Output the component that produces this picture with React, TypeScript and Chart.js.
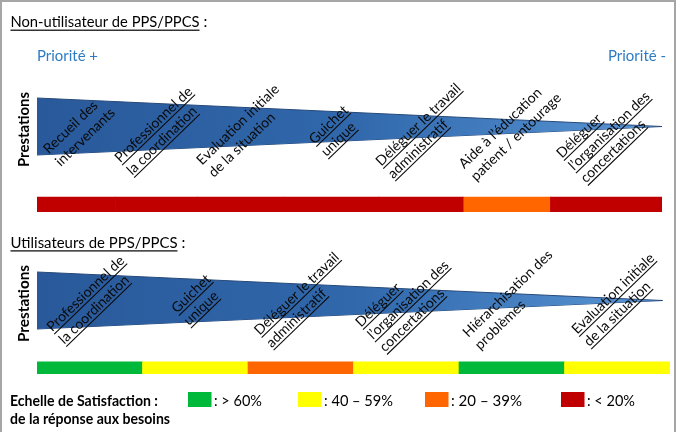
import React, { useEffect, useRef } from "react";
import { Chart, registerables } from "chart.js";

Chart.register(...registerables);

const FONT = "Lato, 'Open Sans', sans-serif";

// Satisfaction scale (legend)
const LEVEL_LABELS = [": > 60%", ": 40 – 59%", ": 20 – 39%", ": < 20%"];
const LEVEL_COLORS = ["#00B93A", "#FFFF00", "#FF6600", "#C00000"];
const LEGEND_TITLE = ["Echelle de Satisfaction :", "de la réponse aux besoins"];

// Non-utilisateurs
const TOP_TITLE = "Non-utilisateur de PPS/PPCS";
const TOP_PRESTATIONS = [
  ["Recueil des", "intervenants"],
  ["Professionnel de", "la coordination"],
  ["Evaluation initiale", "de la situation"],
  ["Guichet", "unique"],
  ["Déléguer le travail", "administratif"],
  ["Aide à l’éducation", "patient / entourage"],
  ["Déléguer", "l’organisation des", "concertations"],
];
const TOP_UNDERLINED = [false, true, false, true, true, false, true];
const TOP_BOUNDS = [0, 0.88, 1.8, 2.77, 3.83, 4.78, 5.75, 7];
const TOP_LEVEL = [3, 3, 3, 3, 3, 2, 3];
const TOP_WEDGE_X = [0, 7];
const TOP_WEDGE_HALF = [1, 0];

// Utilisateurs
const BOTTOM_TITLE = "Utilisateurs de PPS/PPCS";
const BOTTOM_PRESTATIONS = [
  ["Professionnel de", "la coordination"],
  ["Guichet", "unique"],
  ["Déléguer le travail", "administratif"],
  ["Déléguer", "l’organisation des", "concertations"],
  ["Hiérarchisation des", "problèmes"],
  ["Evaluation initiale", "de la situation"],
];
const BOTTOM_UNDERLINED = [true, true, true, true, false, true];
const BOTTOM_BOUNDS = [0, 1, 2, 3, 4, 5, 6];
const BOTTOM_LEVEL = [0, 1, 2, 1, 0, 1];
const BOTTOM_WEDGE_X = [0, 5.93];
const BOTTOM_WEDGE_HALF = [1, 0];

const PRIORITY_LABELS = ["Priorité +", "Priorité -"];
const AXIS_LABEL = "Prestations";

// ---------- layout (pixels) ----------
const W = 683;
const H = 432;
const UNIT = 28.5; // px per wedge half-width unit
const ANGLE = (44 * Math.PI) / 180;

type Layout = {
  left: number;
  right: number;
  top: number;
  bottom: number;
  stripCenterPx: number;
  stripThickness: number;
  labelY: number;
  labelDx: number;
  titleBaseline: number;
  titleWidth: number;
  colonGap: number;
  presCenterY: number;
  presWidth: number;
};

const TOP_LAYOUT: Layout = {
  left: 37,
  right: 662,
  top: 98,
  bottom: 212,
  stripCenterPx: 204.5,
  stripThickness: 15,
  labelY: 132,
  labelDx: 4,
  titleBaseline: 27.3,
  titleWidth: 189,
  colonGap: 4,
  presCenterY: 129.5,
  presWidth: 75,
};

const BOTTOM_LAYOUT: Layout = {
  left: 37,
  right: 670,
  top: 272,
  bottom: 374,
  stripCenterPx: 368,
  stripThickness: 12.5,
  labelY: 301,
  labelDx: 3,
  titleBaseline: 248,
  titleWidth: 167,
  colonGap: 4,
  presCenterY: 303.5,
  presWidth: 77,
};

const LEGEND_SWATCH_X = [188, 298, 425, 561];
const LEGEND_TEXT_W = [48, 69, 71, 48];

function fitText(
  ctx: CanvasRenderingContext2D,
  text: string,
  x: number,
  y: number,
  width: number,
  font: string,
  color: string
) {
  ctx.save();
  ctx.font = font;
  const w = ctx.measureText(text).width;
  ctx.translate(x, y);
  ctx.scale(width / w, 1);
  ctx.fillStyle = color;
  ctx.textAlign = "left";
  ctx.textBaseline = "alphabetic";
  ctx.fillText(text, 0, 0);
  ctx.restore();
}

function drawTitle(ctx: CanvasRenderingContext2D, text: string, L: Layout) {
  const x = 10.5;
  fitText(ctx, text, x, L.titleBaseline, L.titleWidth, `15.5px ${FONT}`, "#000");
  ctx.save();
  ctx.fillStyle = "#000";
  ctx.fillRect(x, L.titleBaseline + 2.3, L.titleWidth, 1.2);
  ctx.font = `15.5px ${FONT}`;
  ctx.textBaseline = "alphabetic";
  ctx.fillText(":", x + L.titleWidth + L.colonGap, L.titleBaseline);
  ctx.restore();
}

function drawPrestations(ctx: CanvasRenderingContext2D, L: Layout) {
  ctx.save();
  ctx.translate(28.5, L.presCenterY);
  ctx.rotate(-Math.PI / 2);
  fitText(ctx, AXIS_LABEL, -L.presWidth / 2, 0, L.presWidth, `bold 15px ${FONT}`, "#000");
  ctx.restore();
}

function drawLabel(
  ctx: CanvasRenderingContext2D,
  lines: string[],
  cx: number,
  cy: number,
  underline: boolean
) {
  ctx.save();
  ctx.font = `14px ${FONT}`;
  const lh = 17.3;
  const widths = lines.map((t) => ctx.measureText(t).width);
  const maxW = Math.max(...widths);
  const n = lines.length;
  const bx = maxW / 2;
  const by = ((n - 1) * lh - 6) / 2;
  ctx.translate(cx, cy);
  ctx.rotate(-ANGLE);
  ctx.translate(-bx, -by);
  ctx.fillStyle = "#0A0A0A";
  ctx.textAlign = "left";
  ctx.textBaseline = "alphabetic";
  lines.forEach((t, i) => {
    const y = i * lh;
    ctx.fillText(t, 0, y);
    if (underline) ctx.fillRect(0, y + 2.2, widths[i], 1.1);
  });
  ctx.restore();
}

function makeChart(
  canvas: HTMLCanvasElement,
  L: Layout,
  prestations: string[][],
  underlined: boolean[],
  bounds: number[],
  levels: number[],
  wedgeX: number[],
  wedgeHalf: number[],
  title: string,
  extra: (ctx: CanvasRenderingContext2D) => void
) {
  const yMax = 1;
  const yMin = 1 - (L.bottom - L.top) / UNIT;
  const stripY = 1 - (L.stripCenterPx - L.top) / UNIT;
  const nCat = bounds.length - 1;

  const gradient = (c: any) => {
    const chart = c.chart;
    const a = chart.chartArea;
    if (!a) return "#2E64A4";
    const g = chart.ctx.createLinearGradient(a.left, 0, a.right, 0);
    g.addColorStop(0, "#29599A");
    g.addColorStop(0.5, "#3068AB");
    g.addColorStop(1, "#5A96D6");
    return g;
  };

  const textPlugin = {
    id: "texts" + title.length,
    afterDraw(chart: any) {
      const ctx = chart.ctx as CanvasRenderingContext2D;
      const xs = chart.scales.x;
      drawTitle(ctx, title, L);
      drawPrestations(ctx, L);
      prestations.forEach((lines, i) => {
        const mid = (bounds[i] + bounds[i + 1]) / 2;
        const cx = xs.getPixelForValue(mid) + L.labelDx;
        drawLabel(ctx, lines, cx, L.labelY, underlined[i]);
      });
      extra(ctx);
    },
  };

  return new Chart(canvas, {
    type: "line",
    data: {
      datasets: [
        {
          type: "line",
          data: wedgeX.map((x, i) => ({ x, y: wedgeHalf[i] })),
          fill: "+1",
          backgroundColor: gradient,
          borderColor: "#27497A",
          borderWidth: 1,
          pointRadius: 0,
          tension: 0,
          clip: false,
        } as any,
        {
          type: "line",
          data: wedgeX.map((x, i) => ({ x, y: -wedgeHalf[i] })),
          fill: false,
          borderColor: "#27497A",
          borderWidth: 1,
          pointRadius: 0,
          tension: 0,
          clip: false,
        } as any,
        {
          type: "bar",
          indexAxis: "y",
          data: levels.map((lv, i) => ({ x: [bounds[i], bounds[i + 1]], y: stripY })),
          backgroundColor: levels.map((lv) => LEVEL_COLORS[lv]),
          borderWidth: 0,
          borderSkipped: false,
          barThickness: L.stripThickness,
        } as any,
      ],
    },
    options: {
      responsive: false,
      animation: false,
      devicePixelRatio: 1,
      events: [],
      layout: {
        padding: { left: L.left, right: W - L.right, top: L.top, bottom: H - L.bottom },
      },
      scales: {
        x: { type: "linear", min: 0, max: nCat, display: false, offset: false },
        y: { type: "linear", min: yMin, max: yMax, display: false, offset: false },
      },
      plugins: { legend: { display: false }, tooltip: { enabled: false }, title: { display: false } },
    } as any,
    plugins: [textPlugin],
  });
}

export default function App() {
  const topRef = useRef<HTMLCanvasElement>(null);
  const botRef = useRef<HTMLCanvasElement>(null);

  useEffect(() => {
    const top = makeChart(
      topRef.current!,
      TOP_LAYOUT,
      TOP_PRESTATIONS,
      TOP_UNDERLINED,
      TOP_BOUNDS,
      TOP_LEVEL,
      TOP_WEDGE_X,
      TOP_WEDGE_HALF,
      TOP_TITLE,
      (ctx) => {
        fitText(ctx, PRIORITY_LABELS[0], 37, 61, 61, `15.5px ${FONT}`, "#2E7BC4");
        fitText(ctx, PRIORITY_LABELS[1], 608, 61, 58, `15.5px ${FONT}`, "#2E7BC4");
      }
    );
    const bot = makeChart(
      botRef.current!,
      BOTTOM_LAYOUT,
      BOTTOM_PRESTATIONS,
      BOTTOM_UNDERLINED,
      BOTTOM_BOUNDS,
      BOTTOM_LEVEL,
      BOTTOM_WEDGE_X,
      BOTTOM_WEDGE_HALF,
      BOTTOM_TITLE,
      (ctx) => {
        fitText(ctx, LEGEND_TITLE[0], 10, 405.5, 148, `bold 14.5px ${FONT}`, "#000");
        fitText(ctx, LEGEND_TITLE[1], 10, 423.5, 160, `bold 14.5px ${FONT}`, "#000");
        LEVEL_LABELS.forEach((lab, i) => {
          ctx.fillStyle = LEVEL_COLORS[i];
          ctx.fillRect(LEGEND_SWATCH_X[i], 392, 23.5, 15);
          fitText(ctx, lab, LEGEND_SWATCH_X[i] + 26, 405.5, LEGEND_TEXT_W[i], `15px ${FONT}`, "#000");
        });
      }
    );
    return () => {
      top.destroy();
      bot.destroy();
    };
  }, []);

  return (
    <div
      style={{
        position: "fixed",
        left: 0,
        top: 0,
        width: W,
        height: H,
        background: "#fff",
        overflow: "hidden",
      }}
    >
      <div
        style={{
          position: "absolute",
          left: 0,
          top: 0,
          width: 676,
          height: H,
          borderTop: "2px solid #A6A6A6",
          borderLeft: "2px solid #A6A6A6",
          borderRight: "2px solid #A6A6A6",
          boxSizing: "border-box",
        }}
      />
      <canvas ref={topRef} width={W} height={H} style={{ position: "absolute", left: 0, top: 0 }} />
      <canvas ref={botRef} width={W} height={H} style={{ position: "absolute", left: 0, top: 0 }} />
    </div>
  );
}
